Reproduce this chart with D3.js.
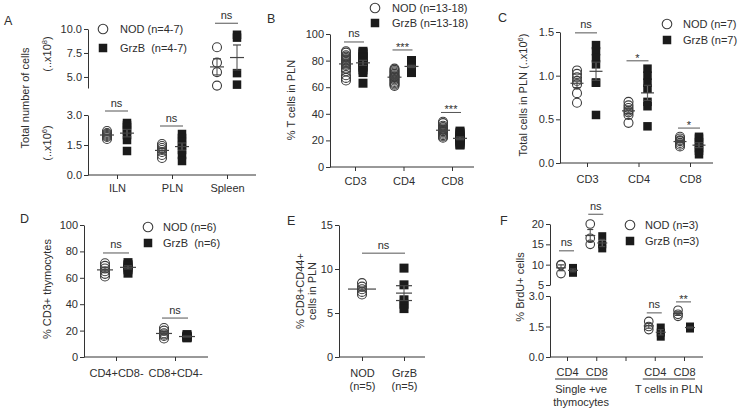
<!DOCTYPE html>
<html><head><meta charset="utf-8">
<script src="https://cdn.jsdelivr.net/npm/d3@7"></script>
<style>
body{margin:0;background:#fff}
svg text{font-family:"Liberation Sans",Arial,sans-serif;fill:#2e2e2e}
</style>
</head><body>
<script>
// ================= DATA =================
const groupNames = ["NOD", "GrzB"];

// Panel A
const aCategories = ["ILN", "PLN", "Spleen"];
const aNOD  = [[2.2, 2.1, 2.05, 2.0, 1.95, 1.9, 1.8], [1.55, 1.45, 1.35, 1.25, 1.15, 1.0, 0.85], [8.1, 6.5, 5.5, 4.1]];
const aGrzB = [[2.6, 2.5, 2.4, 2.2, 2.0, 1.75, 1.2], [2.05, 1.85, 1.65, 1.45, 1.25, 1.0, 0.7], [9.4, 9.1, 5.4, 4.2]];
const aAxisOf = ["lower", "lower", "upper"];
const aSig = ["ns", "ns", "ns"];
const aSigLevel = [3.2, 2.45, 10.6];
const aTicksUpper = [5.0, 7.5, 10.0];
const aTicksLower = [0.0, 1.5, 3.0];
const aLegend = ["NOD (n=4-7)", "GrzB  (n=4-7)"];

// Panel B
const bCategories = ["CD3", "CD4", "CD8"];
const bNOD  = [[87, 86, 84, 83, 82, 81, 80, 79, 78, 77, 76, 74, 72, 69, 67, 65],
               [74, 73, 72, 71, 70, 69, 68, 68, 67, 66, 65, 64, 63, 62, 61],
               [34, 33, 31, 30, 29, 28, 28, 27, 27, 26, 25, 24, 23, 22]];
const bGrzB = [[87, 86, 85, 83, 82, 80, 79, 78, 76, 75, 73, 71, 63],
               [80, 80, 79, 78, 77, 76, 76, 75, 74, 73, 72, 72, 71],
               [27, 26, 25, 24, 23, 22, 21, 20, 19, 18, 17, 16.5]];
const bSig = ["ns", "***", "***"];
const bSigLevel = [94, 88, 41];
const bTicks = [0, 20, 40, 60, 80, 100];
const bLegend = ["NOD (n=13-18)", "GrzB (n=13-18)"];

// Panel C
const cCategories = ["CD3", "CD4", "CD8"];
const cNOD  = [[1.06, 1.02, 0.98, 0.94, 0.9, 0.8, 0.69], [0.7, 0.66, 0.63, 0.6, 0.58, 0.55, 0.46], [0.3, 0.28, 0.26, 0.25, 0.23, 0.21, 0.19]];
const cGrzB = [[1.35, 1.28, 1.2, 1.13, 0.92, 0.92, 0.55], [1.08, 1.0, 0.92, 0.85, 0.7, 0.65, 0.42], [0.3, 0.28, 0.24, 0.2, 0.17, 0.14, 0.1]];
const cSig = ["ns", "*", "*"];
const cSigLevel = [1.49, 1.17, 0.40];
const cTicks = [0.0, 0.5, 1.0, 1.5];
const cLegend = ["NOD (n=7)", "GrzB (n=7)"];

// Panel D
const dCategories = ["CD4+CD8-", "CD8+CD4-"];
const dNOD  = [[71, 69, 67, 65, 63, 61], [22, 20, 18, 17, 16, 14]];
const dGrzB = [[71.5, 70, 69, 67.5, 66, 63.5], [17, 16, 15.5, 15, 15, 14.5]];
const dSig = ["ns", "ns"];
const dSigLevel = [78.8, 29.5];
const dTicks = [0, 20, 40, 60, 80, 100];
const dLegend = ["NOD (n=6)", "GrzB  (n=6)"];

// Panel E
const eCategories = ["NOD", "GrzB"];
const eCategoryN = ["(n=5)", "(n=5)"];
const eNOD  = [8.4, 8.0, 7.7, 7.4, 7.1];
const eGrzB = [10.1, 8.2, 6.5, 6.0, 5.5];
const eSig = "ns";
const eSigLevel = 11.8;
const eTicks = [0, 5, 10, 15];

// Panel F
const fSlots = ["thy-CD4", "thy-CD8", "gap", "pln-CD4", "pln-CD8"];
const fTickLabels = ["CD4", "CD8", "", "CD4", "CD8"];
const fCategories = ["thy-CD4", "thy-CD8", "pln-CD4", "pln-CD8"];
const fNOD  = [[10.0, 9.9, 7.8], [20, 16.5, 15], [1.75, 1.5, 1.35], [2.3, 2.1, 2.0]];
const fGrzB = [[9.2, 8.6, 8.0], [17, 15, 14], [1.45, 1.2, 1.0], [1.5, 1.45, 1.4]];
const fAxisOf = ["upper", "upper", "lower", "lower"];
const fSig = ["ns", "ns", "ns", "**"];
const fSigLevel = [13.4, 22.4, 2.17, 2.71];
const fTicksUpper = [5, 10, 15, 20];
const fTicksLower = [0.0, 1.5, 3.0];
const fGroupLabels = [["Single +ve", "thymocytes"], ["T cells in PLN"]];
const fGroupSpan = [["thy-CD4", "thy-CD8"], ["pln-CD4", "pln-CD8"]];
const fLegend = ["NOD (n=3)", "GrzB (n=3)"];

// ================= DRAWING =================
const W = 738, H = 410;
const svg = d3.select("body").append("svg").attr("width", W).attr("height", H);
const C_AX = "#333", C_CIRC = "#3c3c3c", C_SQ = "#1b1b1b", C_MEAN = "#444", C_SIG = "#555";
const FS = "11px";

function styleAxis(sel) {
  sel.attr("font-family", null).attr("font-size", null);
  sel.select(".domain").attr("stroke", C_AX).attr("stroke-width", 1);
  sel.selectAll(".tick line").attr("stroke", C_AX).attr("stroke-width", 1);
  sel.selectAll(".tick text").attr("fill", "#2e2e2e").style("font-size", FS);
}
function yAxis(g, x0, scale, ticks, fmt) {
  const a = g.append("g").attr("transform", `translate(${x0},0)`)
    .call(d3.axisLeft(scale).tickValues(ticks).tickFormat(fmt).tickSize(4).tickSizeOuter(0).tickPadding(2));
  styleAxis(a);
  return a;
}
function xAxis(g, y0, x0, x1, scale, fmt, pad) {
  const a = g.append("g").attr("transform", `translate(0,${y0})`)
    .call(d3.axisBottom(scale).tickSize(4).tickSizeOuter(0).tickPadding(pad).tickFormat(fmt));
  styleAxis(a);
  a.select(".domain").remove();
  g.append("line").attr("x1", x0).attr("x2", x1).attr("y1", y0).attr("y2", y0)
    .attr("stroke", C_AX).attr("stroke-width", 1);
  return a;
}
function drawCircles(g, cx, y, vals, r) {
  g.append("g").selectAll("circle").data(vals).join("circle")
    .attr("cx", cx).attr("cy", d => y(d)).attr("r", r)
    .attr("fill", "none").attr("stroke", C_CIRC).attr("stroke-width", 1.1);
}
function drawSquares(g, cx, y, vals, s) {
  g.append("g").selectAll("rect").data(vals).join("rect")
    .attr("x", cx - s / 2).attr("y", d => y(d) - s / 2).attr("width", s).attr("height", s)
    .attr("fill", C_SQ);
}
function drawStats(g, cx, y, vals, meanHalf, capHalf) {
  const m = d3.mean(vals), se = d3.deviation(vals) / Math.sqrt(vals.length);
  const s = g.append("g").attr("stroke", C_MEAN).attr("stroke-width", 1.2);
  s.append("line").attr("x1", cx).attr("x2", cx).attr("y1", y(m - se)).attr("y2", y(m + se)).attr("stroke", "#666");
  [m - se, m + se].forEach(v => s.append("line").attr("x1", cx - capHalf).attr("x2", cx + capHalf).attr("y1", y(v)).attr("y2", y(v)));
  s.append("line").attr("x1", cx - meanHalf).attr("x2", cx + meanHalf).attr("y1", y(m)).attr("y2", y(m));
}
function drawSig(g, xa, xb, yy, label) {
  g.append("line").attr("x1", xa).attr("x2", xb).attr("y1", yy).attr("y2", yy)
    .attr("stroke", C_SIG).attr("stroke-width", 1);
  const star = label.includes("*");
  g.append("text").attr("x", (xa + xb) / 2).attr("y", star ? yy + 1 : yy - 4.5)
    .attr("text-anchor", "middle").style("font-size", FS).text(label);
}
function legend(g, cx, yc, yq, tx, labels, r, s) {
  g.append("circle").attr("cx", cx).attr("cy", yc).attr("r", r)
    .attr("fill", "none").attr("stroke", C_CIRC).attr("stroke-width", 1.1);
  g.append("rect").attr("x", cx - s / 2).attr("y", yq - s / 2).attr("width", s).attr("height", s).attr("fill", C_SQ);
  [yc, yq].forEach((yy, i) => g.append("text").attr("x", tx).attr("y", yy + 4)
    .style("font-size", FS).style("white-space", "pre").text(labels[i]));
}
function ylabel(g, x, y, parts) {
  const t = g.append("text").attr("transform", `translate(${x},${y}) rotate(-90)`)
    .attr("text-anchor", "middle").style("font-size", FS);
  parts.forEach(p => {
    const ts = t.append("tspan").text(p.t);
    if (p.sup) ts.attr("dy", -4).style("font-size", "7.5px");
    if (p.after) ts.attr("dy", 4);
  });
}
function panelLetter(x, y, L) {
  svg.append("text").attr("x", x).attr("y", y).style("font-size", "12.5px").text(L);
}
function groupPanel(g, xs, cats, nod, grz, yFor, o) {
  cats.forEach((c, i) => {
    const y = yFor(i);
    const xn = xs(c) + o.offN, xg = xs(c) + o.offG;
    drawCircles(g, xn, y, nod[i], o.r);
    drawSquares(g, xg, y, grz[i], o.s);
    drawStats(g, xn, y, nod[i], o.meanHalf, o.capHalf);
    drawStats(g, xg, y, grz[i], o.meanHalf, o.capHalf);
    drawSig(g, xn - 2, xg + 1, y(o.sigLevel[i]), o.sig[i]);
  });
}

// ---------- Panel A ----------
{
  const g = svg.append("g");
  const x0 = 88, y0 = 175;
  const xs = d3.scalePoint().domain(aCategories).range([117, 227]);
  const yLow = d3.scaleLinear().domain([0, 3]).range([175, 115]);
  const yUp = d3.scaleLinear().domain([3.85, 10]).range([88, 29]);
  yAxis(g, x0, yUp, aTicksUpper, d3.format(".1f"));
  yAxis(g, x0, yLow, aTicksLower, d3.format(".1f"));
  xAxis(g, y0, x0, 256, xs, d => d, 5);
  groupPanel(g, xs, aCategories, aNOD, aGrzB, i => aAxisOf[i] === "upper" ? yUp : yLow,
    {offN: -10, offG: 10, r: 4.5, s: 8.5, meanHalf: 7, capHalf: 4, sig: aSig, sigLevel: aSigLevel});
  legend(g, 103, 29, 48, 120, aLegend, 4.8, 8.5);
  ylabel(g, 29, 98, [{t: "Total number of cells"}]);
  ylabel(g, 51, 54, [{t: "(..x10"}, {t: "8", sup: true}, {t: ")", after: true}]);
  ylabel(g, 51, 143, [{t: "(..x10"}, {t: "6", sup: true}, {t: ")", after: true}]);
  panelLetter(4, 25, "A");
}

// ---------- Panel B ----------
{
  const g = svg.append("g");
  const x0 = 330, y0 = 167;
  const xs = d3.scalePoint().domain(bCategories).range([355, 452]);
  const y = d3.scaleLinear().domain([0, 100]).range([167, 34]);
  yAxis(g, x0, y, bTicks, d3.format("d"));
  xAxis(g, y0, x0, 474, xs, d => d, 6);
  groupPanel(g, xs, bCategories, bNOD, bGrzB, () => y,
    {offN: -9, offG: 8, r: 4.5, s: 9, meanHalf: 7, capHalf: 4, sig: bSig, sigLevel: bSigLevel});
  legend(g, 375, 8, 23, 392, bLegend, 4.8, 8.5);
  ylabel(g, 295, 100, [{t: "% T cells in PLN"}]);
  panelLetter(267, 23, "B");
}

// ---------- Panel C ----------
{
  const g = svg.append("g");
  const x0 = 560, y0 = 163;
  const xs = d3.scalePoint().domain(cCategories).range([587, 690]);
  const y = d3.scaleLinear().domain([0, 1.5]).range([163, 32]);
  yAxis(g, x0, y, cTicks, d3.format(".1f"));
  xAxis(g, y0, x0, 713, xs, d => d, 8);
  groupPanel(g, xs, cCategories, cNOD, cGrzB, () => y,
    {offN: -10, offG: 9, r: 4.5, s: 8.5, meanHalf: 6.5, capHalf: 4, sig: cSig, sigLevel: cSigLevel});
  legend(g, 667, 24, 40, 683, cLegend, 4.8, 8.5);
  ylabel(g, 527, 95, [{t: "Total cells in PLN (..x10"}, {t: "6", sup: true}, {t: ")", after: true}]);
  panelLetter(498, 22, "C");
}

// ---------- Panel D ----------
{
  const g = svg.append("g");
  const x0 = 84, y0 = 357;
  const xs = d3.scalePoint().domain(dCategories).range([116, 175]);
  const y = d3.scaleLinear().domain([0, 100]).range([357, 225]);
  yAxis(g, x0, y, dTicks, d3.format("d"));
  xAxis(g, y0, x0, 208, xs, d => d, 8);
  groupPanel(g, xs, dCategories, dNOD, dGrzB, () => y,
    {offN: -11, offG: 12, r: 4.5, s: 9, meanHalf: 8, capHalf: 4, sig: dSig, sigLevel: dSigLevel});
  legend(g, 148, 227, 243, 163, dLegend, 4.8, 8.5);
  ylabel(g, 51, 289, [{t: "% CD3+ thymocytes"}]);
  panelLetter(20, 223, "D");
}

// ---------- Panel E ----------
{
  const g = svg.append("g");
  const x0 = 339, y0 = 357;
  const xs = d3.scalePoint().domain(eCategories).range([362, 404]);
  const y = d3.scaleLinear().domain([0, 15]).range([357, 225]);
  yAxis(g, x0, y, eTicks, d3.format("d"));
  const ax = xAxis(g, y0, x0, 425, xs, d => d, 8);
  ax.selectAll(".tick text").each(function (d, i) {
    const t = d3.select(this).text(null);
    t.append("tspan").attr("x", 0).text(d);
    t.append("tspan").attr("x", 0).attr("dy", "1.2em").text(eCategoryN[i]);
  });
  const xn = xs("NOD"), xg = xs("GrzB");
  drawCircles(g, xn, y, eNOD, 4.5);
  drawSquares(g, xg, y, eGrzB, 9);
  drawStats(g, xn, y, eNOD, 14, 5);
  drawStats(g, xg, y, eGrzB, 8, 8);
  drawSig(g, xn, xg + 1, y(eSigLevel), eSig);
  ylabel(g, 304, 291, [{t: "% CD8+CD44+"}]);
  ylabel(g, 316, 291, [{t: "cells in PLN"}]);
  panelLetter(287, 225, "E");
}

// ---------- Panel F ----------
{
  const g = svg.append("g");
  const x0 = 550, y0 = 357;
  const xs = d3.scalePoint().domain(fSlots).range([567, 684]);
  const yUp = d3.scaleLinear().domain([5, 20]).range([285, 224]);
  const yLow = d3.scaleLinear().domain([0, 3]).range([357, 296]);
  yAxis(g, x0, yUp, fTicksUpper, d3.format("d"));
  yAxis(g, x0, yLow, fTicksLower, d3.format(".1f"));
  xAxis(g, y0, x0, 703, xs, (d, i) => fTickLabels[i], 7);
  groupPanel(g, xs, fCategories, fNOD, fGrzB, i => fAxisOf[i] === "upper" ? yUp : yLow,
    {offN: -6, offG: 6, r: 4.3, s: 8, meanHalf: 5, capHalf: 3, sig: fSig, sigLevel: fSigLevel});
  fGroupSpan.forEach((sp, i) => {
    const xa = xs(sp[0]) - 12, xb = xs(sp[1]) + 11;
    g.append("line").attr("x1", xa).attr("x2", xb).attr("y1", 379).attr("y2", 379)
      .attr("stroke", C_AX).attr("stroke-width", 1);
    fGroupLabels[i].forEach((l, j) => g.append("text").attr("x", (xa + xb) / 2).attr("y", 393 + j * 12.5)
      .attr("text-anchor", "middle").style("font-size", FS).text(l));
  });
  legend(g, 630, 225, 241, 645, fLegend, 4.8, 8.5);
  ylabel(g, 524, 287, [{t: "% BrdU+ cells"}]);
  panelLetter(500, 225, "F");
}
</script>
</body></html>
